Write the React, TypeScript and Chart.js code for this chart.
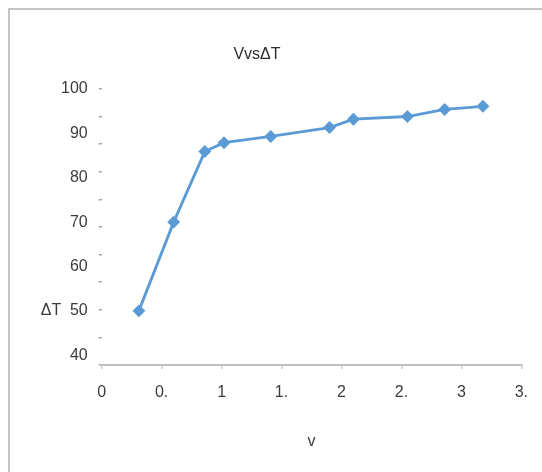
import React, { useEffect, useRef } from "react";
import { Chart, registerables } from "chart.js";

Chart.register(...registerables);

// ---- data ----
const vValues: number[] = [0.31, 0.6, 0.86, 1.02, 1.41, 1.9, 2.1, 2.55, 2.86, 3.18];
const deltaT: number[] = [50, 70, 85.9, 87.9, 89.3, 91.3, 93.2, 93.8, 95.4, 96.1];
const xTickLabels: string[] = ["0", "0.", "1", "1.", "2", "2.", "3", "3."];
const yTickValues: number[] = [40, 50, 60, 70, 80, 90, 100];
const chartTitle = "VvsΔT";
const xTitle = "v";
const yTitle = "ΔT";

const FONT = "'Liberation Sans', Arial, sans-serif";
const TEXT = "#3c3c3c";
const AXIS = "#c0c0c0";
const BLUE = "#5b9bd5";

const Y_MIN = 37.8;
const Y_MAX = 100;

const textPlugin = {
  id: "extraText",
  afterDraw(chart: any) {
    const ctx = chart.ctx;
    const y = chart.scales.y;
    ctx.save();
    ctx.fillStyle = "#2e2e2e";
    ctx.font = `16px ${FONT}`;
    ctx.textAlign = "center";
    ctx.textBaseline = "middle";
    ctx.fillText(chartTitle, 257, 55);
    ctx.fillStyle = TEXT;
    ctx.fillText(yTitle, 51, y.getPixelForValue(50));
    ctx.restore();
  },
};

export default function App() {
  const ref = useRef<HTMLCanvasElement>(null);
  useEffect(() => {
    if (!ref.current) return;
    const chart = new Chart(ref.current, {
      type: "line",
      data: {
        datasets: [
          {
            data: vValues.map((v, i) => ({ x: v, y: deltaT[i] })),
            borderColor: BLUE,
            backgroundColor: BLUE,
            borderWidth: 2.8,
            pointStyle: "rectRot",
            pointRadius: 4.5,
            pointBorderColor: BLUE,
            pointBackgroundColor: BLUE,
            tension: 0,
          },
        ],
      },
      options: {
        responsive: false,
        animation: false,
        devicePixelRatio: 1,
        layout: { padding: { left: 0, top: 89, right: 17.7, bottom: 0 } },
        plugins: { legend: { display: false }, tooltip: { enabled: false }, title: { display: false } },
        scales: {
          x: {
            type: "linear",
            min: 0,
            max: 3.5,
            afterFit: (s: any) => {
              s.height = 107;
            },
            ticks: {
              stepSize: 0.5,
              padding: 14,
              color: TEXT,
              font: { family: FONT, size: 16 },
              maxRotation: 0,
              autoSkip: false,
              callback: (_v: any, i: number) => xTickLabels[i] ?? "",
            },
            grid: { drawOnChartArea: false, drawTicks: true, tickLength: 4, color: "#cccccc", lineWidth: 1.5 },
            border: { display: true, color: AXIS, width: 2 },
            title: {
              display: true,
              text: xTitle,
              color: TEXT,
              font: { family: FONT, size: 16 },
              padding: { top: 0, bottom: 21 },
            },
          },
          y: {
            type: "linear",
            position: "left",
            weight: 1,
            min: Y_MIN,
            max: Y_MAX,
            afterFit: (s: any) => {
              s.width = 3;
            },
            ticks: { display: false, count: 11 },
            grid: { drawOnChartArea: false, drawTicks: true, tickLength: 3, color: "#a8a8a8", lineWidth: 1.5 },
            border: { display: false },
          },
          yLabels: {
            type: "linear",
            position: "left",
            weight: 2,
            min: Y_MIN,
            max: Y_MAX,
            afterBuildTicks: (s: any) => {
              s.ticks = yTickValues.map((v) => ({ value: v }));
            },
            afterFit: (s: any) => {
              s.width = 98.7;
            },
            ticks: {
              padding: 11,
              color: TEXT,
              font: { family: FONT, size: 16 },
              callback: (v: any) => String(v),
            },
            grid: { display: false, drawTicks: false, tickLength: 0 },
            border: { display: false },
          },
        },
      },
      plugins: [textPlugin],
    } as any);
    return () => chart.destroy();
  }, []);
  return (
    <>
      <div
        style={{
          position: "fixed",
          left: 8,
          top: 8,
          width: 540,
          height: 470,
          borderTop: "2px solid #c4c4c4",
          borderLeft: "2px solid #c4c4c4",
          boxSizing: "border-box",
        }}
      />
      <canvas
        ref={ref}
        width={542}
        height={472}
        style={{ position: "fixed", left: 0, top: 0, width: 542, height: 472, display: "block" }}
      />
    </>
  );
}
